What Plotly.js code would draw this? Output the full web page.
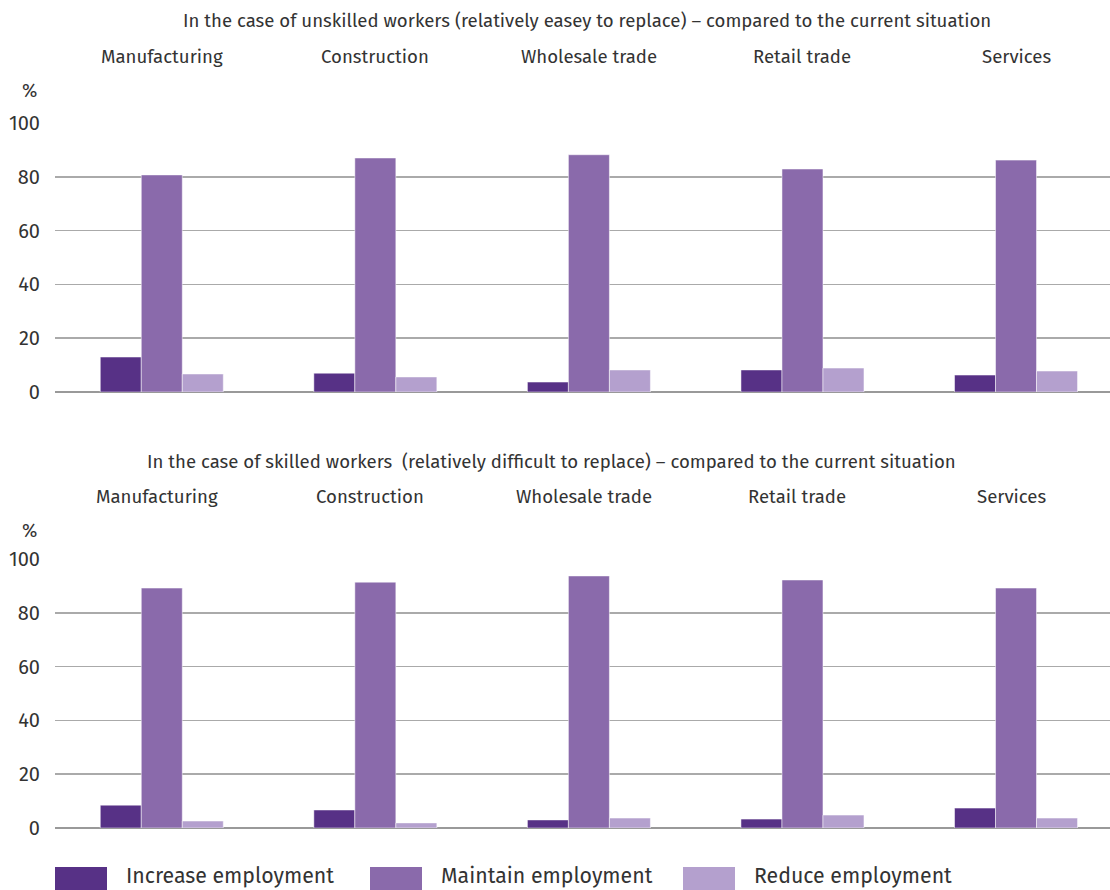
<!DOCTYPE html>
<html>
<head>
<meta charset="utf-8">
<script src="https://cdn.plot.ly/plotly-3.0.1.min.js"></script>
<style>
  html, body { margin: 0; padding: 0; background: #fff; }
  #chart { width: 1110px; height: 890px; }
</style>
</head>
<body>
<div id="chart"></div>
<script>
// Sectors shown in both panels
const sectors = ['Manufacturing', 'Construction', 'Wholesale trade', 'Retail trade', 'Services'];

// Series names and colours
const seriesNames = ['Increase employment', 'Maintain employment', 'Reduce employment'];
const seriesColors = ['#573186', '#8a6aab', '#b4a0ce'];

// Unskilled workers (%)
const unskilledIncrease = [13, 7, 3.7, 8.2, 6.3];
const unskilledMaintain = [80.7, 87, 88.2, 82.9, 86.2];
const unskilledReduce   = [6.7, 5.6, 8.2, 8.9, 7.8];

// Skilled workers (%)
const skilledIncrease = [8.5, 6.7, 3, 3.3, 7.4];
const skilledMaintain = [89.2, 91.4, 93.7, 92.2, 89.2];
const skilledReduce   = [2.6, 1.9, 3.7, 4.8, 3.7];

// Panel headings and axis ticks
const panelTitles = [
  'In the case of unskilled workers (relatively easey to replace) – compared to the current situation',
  'In the case of skilled workers  (relatively difficult to replace) – compared to the current situation'
];
const yTicks = [0, 20, 40, 60, 80, 100];

const FONT = 'Fira Sans, "Noto Sans", "Open Sans", sans-serif';
const TXT = '#333333';

const panels = [
  { values: [unskilledIncrease, unskilledMaintain, unskilledReduce], xa: 'x', ya: 'y' },
  { values: [skilledIncrease, skilledMaintain, skilledReduce], xa: 'x2', ya: 'y2' }
];

const traces = [];
panels.forEach(p => {
  p.values.forEach((vals, i) => {
    traces.push({
      type: 'bar',
      x: sectors,
      y: vals,
      name: seriesNames[i],
      xaxis: p.xa,
      yaxis: p.ya,
      marker: { color: seriesColors[i], line: { color: 'rgba(255,255,255,0.5)', width: 1 } },
      showlegend: false,
      hoverinfo: 'x+y+name'
    });
  });
});

const H = 890, W = 1110;
const py = v => 1 - v / H;   // pixel row -> paper fraction
const px = v => v / W;       // pixel column -> paper fraction

const xAxisBase = {
  type: 'category',
  range: [-0.5, 4.44],
  domain: [px(55), 1],
  showticklabels: false,
  showgrid: false,
  zeroline: false,
  showline: false,
  ticks: ''
};
const yAxisBase = {
  range: [0, 100],
  tickvals: yTicks,
  ticktext: yTicks.map(String),
  showgrid: true,
  gridcolor: '#aaaaaa',
  gridwidth: 1.6,
  zeroline: true,
  zerolinecolor: '#999999',
  zerolinewidth: 2,
  showline: false,
  ticks: '',
  ticklabelstandoff: 14,
  tickfont: { family: FONT, size: 20, color: TXT }
};

const annotations = [];
const headY = [21, 462];
const catY = [57, 497];
const pctY = [91, 531];
const headX = [587, 551];
const catShift = [0, -5];
panels.forEach((p, k) => {
  annotations.push({
    text: panelTitles[k], xref: 'paper', yref: 'paper',
    x: px(headX[k]), y: py(headY[k]), xanchor: 'center', yanchor: 'middle',
    showarrow: false, font: { family: FONT, size: 18.6, color: TXT }
  });
  annotations.push({
    text: '%', xref: 'paper', yref: 'paper',
    x: px(29), y: py(pctY[k]), xanchor: 'center', yanchor: 'middle',
    showarrow: false, font: { family: FONT, size: 18.6, color: TXT }
  });
  sectors.forEach(s => {
    annotations.push({
      text: s, xref: p.xa, yref: 'paper',
      x: s, y: py(catY[k]), xanchor: 'center', yanchor: 'middle', xshift: catShift[k],
      showarrow: false, font: { family: FONT, size: 18.6, color: TXT }
    });
  });
});

// Legend drawn as swatches with labels beneath the lower panel
const shapes = [];
const legendX = [55, 370, 683];
seriesNames.forEach((n, i) => {
  shapes.push({
    type: 'rect', xref: 'paper', yref: 'paper',
    x0: px(legendX[i]), x1: px(legendX[i] + 52),
    y0: py(890), y1: py(867),
    fillcolor: seriesColors[i], line: { width: 0 }
  });
  annotations.push({
    text: n, xref: 'paper', yref: 'paper',
    x: px(legendX[i] + 69), y: py(876), xanchor: 'left', yanchor: 'middle',
    showarrow: false, font: { family: FONT, size: 21.3, color: TXT }
  });
});

const layout = {
  width: W, height: H,
  margin: { l: 0, r: 0, t: 0, b: 0 },
  paper_bgcolor: '#ffffff',
  plot_bgcolor: '#ffffff',
  barmode: 'group',
  bargap: 0.424,
  bargroupgap: 0,
  showlegend: false,
  xaxis: Object.assign({}, xAxisBase, { anchor: 'y' }),
  yaxis: Object.assign({}, yAxisBase, { domain: [py(392), py(123)], anchor: 'x' }),
  xaxis2: Object.assign({}, xAxisBase, { anchor: 'y2' }),
  yaxis2: Object.assign({}, yAxisBase, { domain: [py(828), py(559)], anchor: 'x2' }),
  annotations: annotations,
  shapes: shapes,
  font: { family: FONT, color: TXT }
};

Plotly.newPlot('chart', traces, layout, { displayModeBar: false, staticPlot: true });
</script>
</body>
</html>
